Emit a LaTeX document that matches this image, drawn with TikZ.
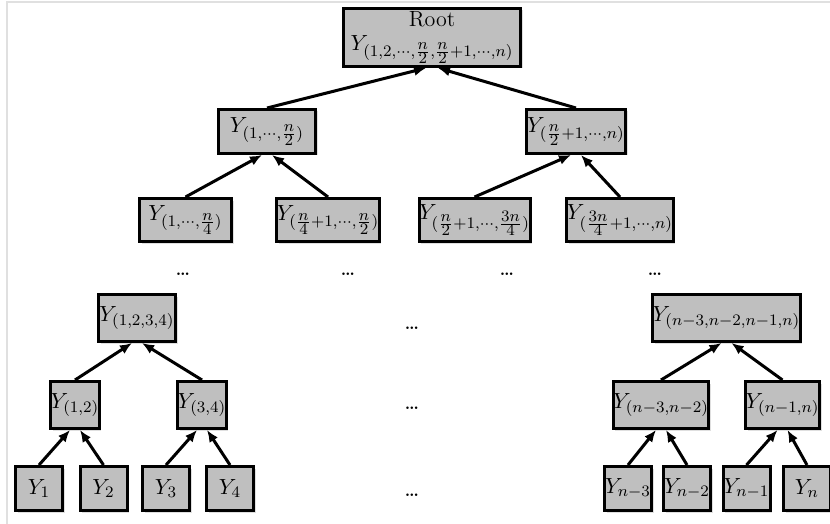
\documentclass[tikz,border=0pt]{standalone}
\usetikzlibrary{arrows.meta,shadows}
\newcommand{\hf}[2]{\frac{\scriptstyle #1}{\scriptstyle #2}}
\begin{document}
\begin{tikzpicture}[x=0.5pt,y=-0.5pt,
  box/.style={draw=black, line width=1.5pt, fill=black!25, inner sep=0pt,
    drop shadow={shadow xshift=1pt, shadow yshift=-1pt, opacity=0.25},
    font=\fontsize{11}{13}\selectfont},
  arr/.style={line width=1.5pt, -{Latex[length=6pt,width=5pt]}},
  dotsnode/.style={font=\fontsize{8}{9}\selectfont\bfseries, inner sep=0pt}]
\useasboundingbox (0,0) rectangle (830,524);
\fill[white] (0,0) rectangle (830,524);
\draw[black!12, line width=0.6pt] (7,524) -- (7,2) -- (830,2);

% root
\node[box, minimum width=88.5pt, minimum height=29pt, align=center] (root) at (432,37.5)
  {Root\\[-1pt]$Y_{(1,2,\cdots,\hf n2,\hf n2+1,\cdots,n)}$};
% level 1
\node[box, minimum width=48.5pt, minimum height=22pt] (a1) at (267,131.5) {$Y_{(1,\cdots,\hf n2)}$};
\node[box, minimum width=49.5pt, minimum height=22pt] (a2) at (576,131.5) {$Y_{(\hf n2+1,\cdots,n)}$};
% level 2
\node[box, minimum width=46pt, minimum height=21.5pt] (b1) at (185.5,220) {$Y_{(1,\cdots,\hf n4)}$};
\node[box, minimum width=45.5pt, minimum height=21.5pt] (b2) at (328,220) {$Y_{(\hf n4+1,\cdots,\hf n2)}$};
\node[box, minimum width=49pt, minimum height=21.5pt] (b3) at (474.5,220) {$Y_{(\hf n2+1,\cdots,\hf{3n}4)}$};
\node[box, minimum width=46.5pt, minimum height=21.5pt] (b4) at (620,220) {$Y_{(\hf{3n}4+1,\cdots,n)}$};
% dots
\node[dotsnode] (d1) at (183,274) {\ldots};
\node[dotsnode] (d2) at (348,274) {\ldots};
\node[dotsnode] (d3) at (507,274) {\ldots};
\node[dotsnode] (d4) at (655,274) {\ldots};
\node[dotsnode] (d5) at (412,328) {\ldots};
\node[dotsnode] (d6) at (412,408) {\ldots};
\node[dotsnode] (d7) at (412,495) {\ldots};
% level 3
\node[box, minimum width=38.5pt, minimum height=23.5pt] (c1) at (137,318) {$Y_{(1,2,3,4)}$};
\node[box, minimum width=55pt, minimum height=23.5pt] (c2) at (726.5,318) {$Y_{(n-3,n-2,n-1,n)}$};
% level 4
\node[box, minimum width=23.5pt, minimum height=23.5pt] (e1) at (75,405) {$Y_{(1,2)}$};
\node[box, minimum width=23.5pt, minimum height=23.5pt] (e2) at (202,405) {$Y_{(3,4)}$};
\node[box, minimum width=34.5pt, minimum height=23.5pt] (e3) at (661,405) {$Y_{(n-3,n-2)}$};
\node[box, minimum width=28pt, minimum height=23.5pt] (e4) at (782.5,405) {$Y_{(n-1,n)}$};
% level 5
\node[box, minimum width=23.5pt, minimum height=22pt] (f1) at (39,488.5) {$Y_1$};
\node[box, minimum width=23.5pt, minimum height=22pt] (f2) at (103.5,488.5) {$Y_2$};
\node[box, minimum width=23.5pt, minimum height=22pt] (f3) at (166,488.5) {$Y_3$};
\node[box, minimum width=23.5pt, minimum height=22pt] (f4) at (230,488.5) {$Y_4$};
\node[box, minimum width=23.5pt, minimum height=22pt] (f5) at (628,488.5) {$Y_{n-3}$};
\node[box, minimum width=23.5pt, minimum height=22pt] (f6) at (687,488.5) {$Y_{n-2}$};
\node[box, minimum width=23.5pt, minimum height=22pt] (f7) at (746.5,488.5) {$Y_{n-1}$};
\node[box, minimum width=23.5pt, minimum height=22pt] (f8) at (807,488.5) {$Y_n$};

% arrows
\draw[arr] (a1.north) -- ([xshift=-3pt]root.south);
\draw[arr] (a2.north) -- ([xshift=3pt]root.south);
\draw[arr] (b1.north) -- ([xshift=-2.5pt]a1.south);
\draw[arr] (b2.north) -- ([xshift=2.5pt]a1.south);
\draw[arr] (b3.north) -- ([xshift=-2.5pt]a2.south);
\draw[arr] (b4.north) -- ([xshift=2.5pt]a2.south);
\draw[arr] (e1.north) -- ([xshift=-2.5pt]c1.south);
\draw[arr] (e2.north) -- ([xshift=2.5pt]c1.south);
\draw[arr] (e3.north) -- ([xshift=-2.5pt]c2.south);
\draw[arr] (e4.north) -- ([xshift=2.5pt]c2.south);
\draw[arr] (f1.north) -- ([xshift=-2.5pt]e1.south);
\draw[arr] (f2.north) -- ([xshift=2.5pt]e1.south);
\draw[arr] (f3.north) -- ([xshift=-2.5pt]e2.south);
\draw[arr] (f4.north) -- ([xshift=2.5pt]e2.south);
\draw[arr] (f5.north) -- ([xshift=-2.5pt]e3.south);
\draw[arr] (f6.north) -- ([xshift=2.5pt]e3.south);
\draw[arr] (f7.north) -- ([xshift=-2.5pt]e4.south);
\draw[arr] (f8.north) -- ([xshift=2.5pt]e4.south);
\end{tikzpicture}
\end{document}
